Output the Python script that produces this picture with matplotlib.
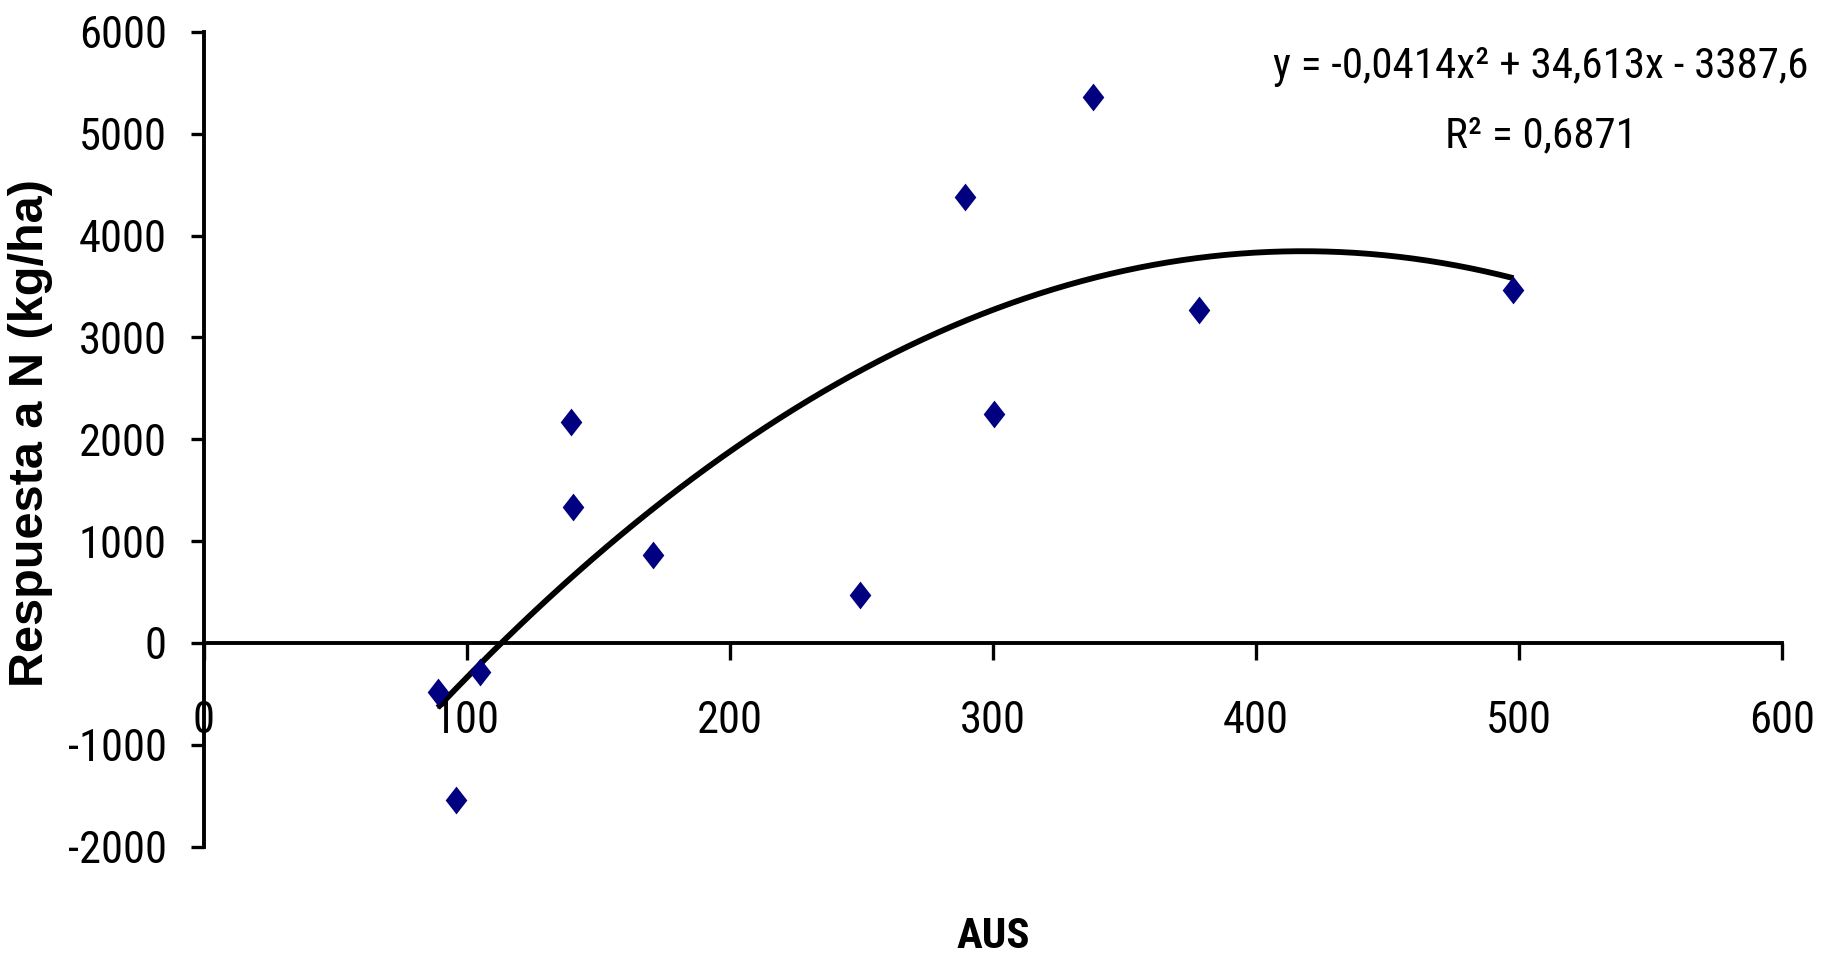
import matplotlib
matplotlib.use("Agg")
import matplotlib.pyplot as plt
from matplotlib import font_manager
import numpy as np

# ── data ────────────────────────────────────────────────────────────
aus = [89, 96, 105, 139.5, 140.5, 171, 249.5, 289.5, 300.5, 338, 378.5, 498]
respuesta = [-480, -1545, -285, 2170, 1340, 868, 472, 4380, 2250, 5365, 3273, 3468]
# quadratic trendline coefficients (as printed on the chart)
trend_coeffs = [-0.0414, 34.613, -3387.6]
x_ticks = [0, 100, 200, 300, 400, 500, 600]
y_ticks = [-2000, -1000, 0, 1000, 2000, 3000, 4000, 5000, 6000]

# ── fonts: Arial-Narrow look-alike if one is around ─────────────────
names = {f.name for f in font_manager.fontManager.ttflist}
prefs = ["Liberation Sans Narrow", "Arial Narrow", "Roboto Condensed",
         "PT Sans Narrow", "Archivo Narrow"]
found = [p for p in prefs if p in names]
NARROW = found[0] if found else "Liberation Sans"
WIDE = "Liberation Sans"
FS = 32 if found else 28
plt.rcParams["axes.unicode_minus"] = False

fig = plt.figure(figsize=(18.25, 9.57), dpi=100)
fig.patch.set_facecolor("white")
ax = fig.add_axes([0.1116, 0.1153, 0.8647, 0.8513])

for s in ("top", "right"):
    ax.spines[s].set_visible(False)
ax.spines["bottom"].set_position(("data", 0))
for s in ("left", "bottom"):
    ax.spines[s].set_linewidth(2.8)

# scatter points (navy diamonds)
diamond = [(0, 1), (0.78, 0), (0, -1), (-0.78, 0), (0, 1)]
ax.plot(aus, respuesta, linestyle="none", marker=diamond, markersize=20,
        color="#000080", markeredgewidth=0, zorder=3)

# trendline over the data range
xs = np.linspace(min(aus), max(aus), 300)
ax.plot(xs, np.polyval(trend_coeffs, xs), color="black", lw=4.2,
        solid_capstyle="butt", zorder=2)

ax.set_xlim(0, 600)
ax.set_ylim(-2000, 6000)
ax.set_xticks(x_ticks)
ax.set_yticks(y_ticks)
ax.tick_params(axis="x", direction="out", length=12, width=2.4, pad=29, labelsize=FS)
ax.tick_params(axis="y", direction="out", length=9.5, width=2.4, pad=17, labelsize=FS)
for lab in ax.get_xticklabels() + ax.get_yticklabels():
    lab.set_fontfamily(NARROW)

# equation + R²
fig.text(0.8444, 0.931, "y = -0,0414x² + 34,613x - 3387,6",
         ha="center", va="center", fontsize=FS - 1, fontfamily=NARROW)
fig.text(0.8444, 0.858, "R² = 0,6871",
         ha="center", va="center", fontsize=FS - 1, fontfamily=NARROW)

# axis titles
fig.text(993 / 1825, 1 - 936 / 957, "AUS", ha="center", va="center",
         fontsize=FS - 1, fontweight="bold", fontfamily=NARROW)
fig.text(31 / 1825, 1 - 433 / 957, "Respuesta a N (kg/ha)", rotation=90,
         ha="center", va="center", fontsize=35, fontweight="bold", fontfamily=WIDE)

fig.savefig("out.png", dpi=100, facecolor="white")
